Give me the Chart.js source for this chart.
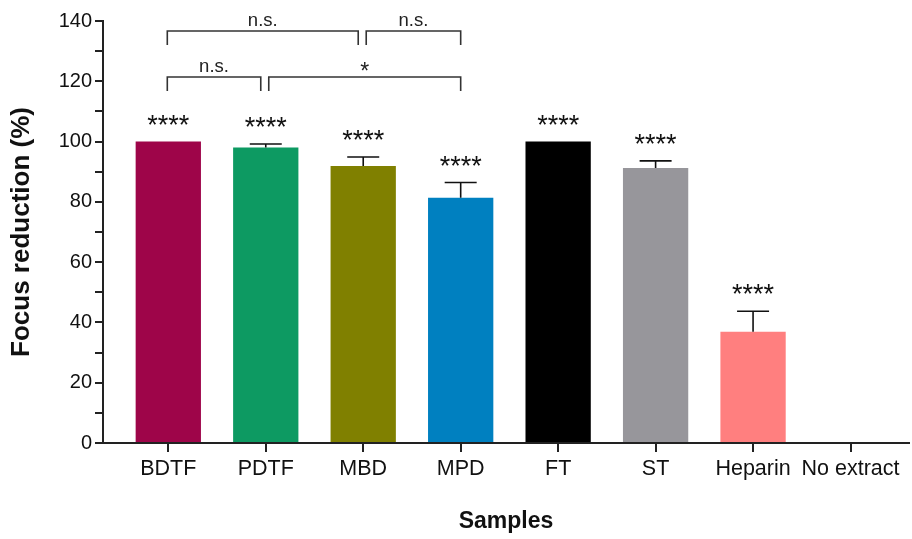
<!DOCTYPE html>
<html>
<head>
<meta charset="utf-8">
<script src="https://cdn.jsdelivr.net/npm/chart.js"></script>
<style>
  html, body { margin: 0; padding: 0; background: #fff; }
  #wrap { width: 912px; height: 539px; }
</style>
</head>
<body>
<div id="wrap"><canvas id="focusChart" width="912" height="539"></canvas></div>
<script>
    // Samples and mean focus reduction (%) with upper error (SD)
    const samples = ['BDTF', 'PDTF', 'MBD', 'MPD', 'FT', 'ST', 'Heparin', 'No extract'];
    const reduction = [100, 98, 91.9, 81.4, 100, 91.2, 36.9, 0];
    const errorUp = [0, 1.2, 3, 5, 0, 2.4, 6.8, 0];
    const stars = ['****', '****', '****', '****', '****', '****', '****', ''];
    const barColors = ['#9E0549', '#0D9A62', '#808000', '#0080C0', '#000000', '#97969B', '#FF7F7F', '#FFFFFF'];

    // pairwise comparisons drawn as brackets (level in % units)
    const compFrom = [0, 2, 0, 1];
    const compTo = [2, 3, 1, 3];
    const compLevel = [136.7, 136.7, 121.4, 121.4];
    const compText = ['n.s.', 'n.s.', 'n.s.', '*'];

    const FONT = "'Liberation Sans', Arial, sans-serif";

    const errorBars = {
        id: 'errorBars',
        afterDatasetsDraw(chart) {
            const ctx = chart.ctx;
            const y = chart.scales.y;
            const meta = chart.getDatasetMeta(0);
            ctx.save();
            ctx.strokeStyle = '#111';
            ctx.lineWidth = 1.6;
            ctx.fillStyle = '#111';
            meta.data.forEach((bar, i) => {
                const top = y.getPixelForValue(reduction[i] + errorUp[i]);
                if (errorUp[i] > 0) {
                    ctx.beginPath();
                    ctx.moveTo(bar.x, bar.y);
                    ctx.lineTo(bar.x, top);
                    ctx.moveTo(bar.x - 16, top);
                    ctx.lineTo(bar.x + 16, top);
                    ctx.stroke();
                }
                if (stars[i]) {
                    ctx.font = '27px ' + FONT;
                    ctx.textAlign = 'center';
                    ctx.textBaseline = 'alphabetic';
                    ctx.fillText(stars[i], bar.x, top - 8);
                }
            });

            // comparison brackets
            const x = chart.scales.x;
            ctx.lineWidth = 1.6;
            ctx.strokeStyle = '#333';
            compFrom.forEach((f, k) => {
                let x1 = x.getPixelForValue(f) - 1;
                let x2 = x.getPixelForValue(compTo[k]);
                if (compFrom.some((g, j) => j !== k && compTo[j] === f && compLevel[j] === compLevel[k])) x1 += 4;
                if (compTo.some((g, j) => j !== k && compFrom[j] === compTo[k] && compLevel[j] === compLevel[k])) x2 -= 5;
                const yl = y.getPixelForValue(compLevel[k]);
                ctx.beginPath();
                ctx.moveTo(x1, yl + 14);
                ctx.lineTo(x1, yl);
                ctx.lineTo(x2, yl);
                ctx.lineTo(x2, yl + 14);
                ctx.stroke();
                ctx.font = (compText[k] === '*' ? '23px ' : '18.5px ') + FONT;
                ctx.textAlign = 'center';
                ctx.textBaseline = 'alphabetic';
                ctx.fillStyle = '#222';
                ctx.fillText(compText[k], (x1 + x2) / 2, compText[k] === '*' ? yl + 2 : yl - 5);
            });
            ctx.restore();
        }
    };

    const ctx = document.getElementById('focusChart').getContext('2d');
    new Chart(ctx, {
        type: 'bar',
        data: {
            datasets: [{
                data: reduction.map((v, i) => ({ x: i, y: v })),
                backgroundColor: barColors,
                borderWidth: 0,
                categoryPercentage: 1,
                barPercentage: 0.67
            }]
        },
        options: {
            responsive: false,
            animation: false,
            devicePixelRatio: 1,
            layout: { padding: { top: 21, right: 3, left: 0, bottom: 0 } },
            plugins: {
                legend: { display: false },
                tooltip: { enabled: false }
            },
            scales: {
                x: {
                    type: 'linear',
                    offset: false,
                    min: -0.67,
                    max: 7.6,
                    afterBuildTicks: (scale) => { scale.ticks = samples.map((s, i) => ({ value: i })); },
                    afterFit: (scale) => { scale.height = 96; },
                    ticks: {
                        callback: (v) => samples[v],
                        color: '#111',
                        font: { family: FONT, size: 21.5 },
                        padding: 4,
                        maxRotation: 0,
                        autoSkip: false
                    },
                    grid: { offset: false, drawOnChartArea: false, drawTicks: true, tickLength: 9, color: '#222', lineWidth: 2 },
                    border: { display: true, color: '#222', width: 2 },
                    title: {
                        display: true,
                        text: 'Samples',
                        color: '#111',
                        font: { family: FONT, size: 23, weight: 'bold' },
                        padding: { top: 0, bottom: 4 }
                    }
                },
                y: {
                    min: 0,
                    max: 140,
                    afterFit: (scale) => { scale.width = 103; },
                    ticks: {
                        stepSize: 10,
                        callback: (v) => (v % 20 === 0 ? v : ''),
                        color: '#111',
                        font: { family: FONT, size: 20 },
                        padding: 3
                    },
                    grid: { drawOnChartArea: false, drawTicks: true, tickLength: 8, color: '#222', lineWidth: 2 },
                    border: { display: true, color: '#222', width: 2 },
                    title: {
                        display: true,
                        text: 'Focus reduction (%)',
                        color: '#111',
                        font: { family: FONT, size: 26, weight: 'bold' },
                        padding: { top: 6, bottom: 0 }
                    }
                }
            }
        },
        plugins: [errorBars]
    });
</script>
</body>
</html>
